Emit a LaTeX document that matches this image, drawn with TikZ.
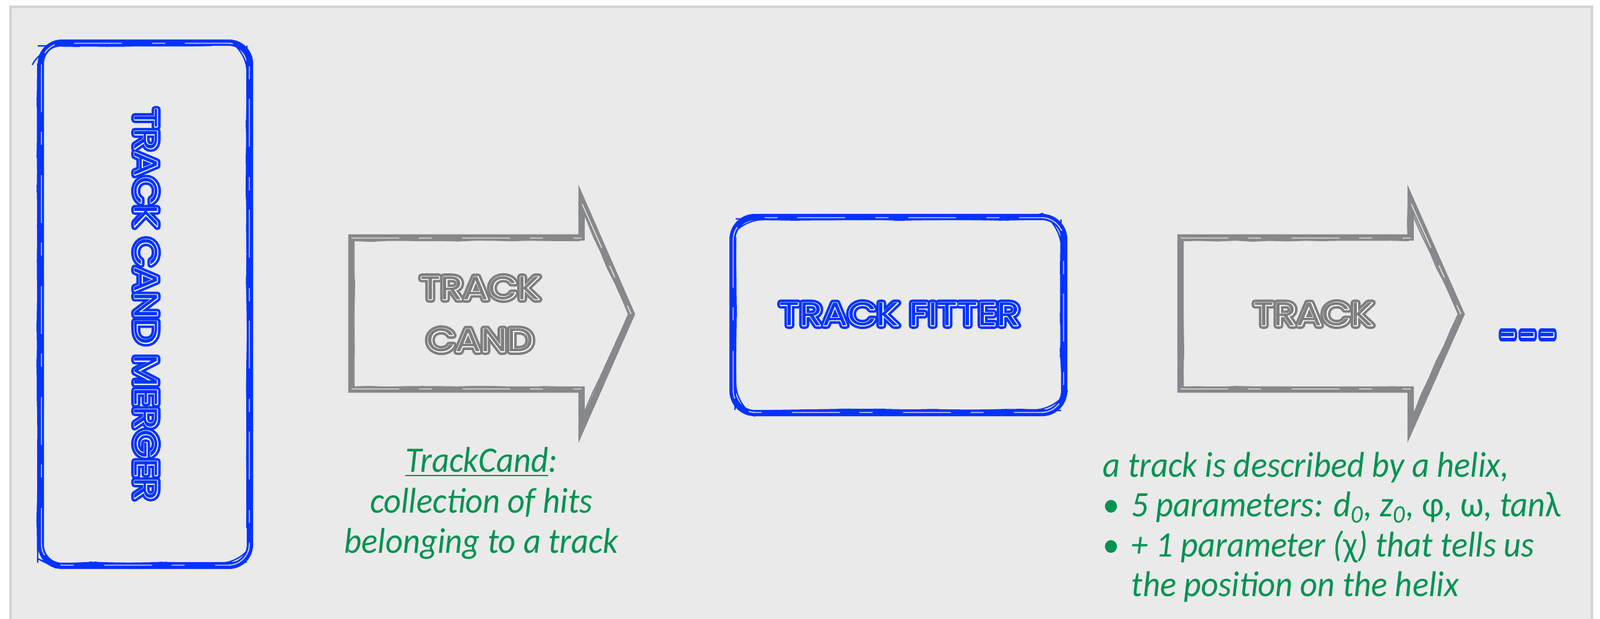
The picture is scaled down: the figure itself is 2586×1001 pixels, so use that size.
\documentclass[tikz,border=0pt]{standalone}
\usepackage{fontspec}
\usetikzlibrary{decorations.pathmorphing}
\newfontfamily\notefont{Carlito}[FakeStretch=0.94]
\newfontfamily\dispfont{Poppins}[FakeStretch=1.15]
\newfontfamily\dispwide{Poppins}[FakeStretch=1.15,FakeBold=20]
\newfontfamily\dispmid{Poppins}[FakeStretch=1.15,FakeBold=4.5]
\definecolor{panel}{HTML}{EAEAEA}
\definecolor{frame}{HTML}{D3D3D3}
\definecolor{modblue}{HTML}{0433FF}
\definecolor{objgray}{HTML}{86888B}
\definecolor{objtext}{HTML}{7E7E7E}
\definecolor{notegreen}{HTML}{009250}
% inline lettering: thick outline, light line, thin core
\newcommand\inlaid[2]{\rlap{\dispwide\color{#1}#2}\rlap{\dispmid\color{white}#2}{\dispfont\color{#1}#2}}
\newcommand\bul{\makebox[0.46cm][l]{\upshape\textbullet}}

\begin{document}
\begin{tikzpicture}[x=0.01cm,y=-0.01cm,
  brush/.style={line width=2.9pt,line join=round},
  grain/.style={line width=0.6pt,decorate,decoration={random steps,segment length=8pt,amplitude=0.3pt}},
  streak/.style={draw=panel,line width=0.4pt,dash pattern=on 22pt off 9pt on 6pt off 14pt},
  stamp/.style={inner sep=0pt,line join=round,font=\fontsize{15}{24}\selectfont},
  notes/.style={inner sep=0pt,text=notegreen,font=\notefont\itshape\fontsize{16.5}{18.6}\selectfont}]
  \useasboundingbox (0,0) rectangle (2586,1001);
  \fill[white] (0,0) rectangle (2586,1001);
  \draw[frame,fill=panel,line width=1.2pt] (17,11) rectangle (2573,1020);

  % Left: merger module
  \draw[brush,modblue,rounded corners=0.34cm] (66,69) rectangle (404,915);
  \draw[grain,modblue,rounded corners=0.34cm] (61,74) rectangle (399,910);
  \draw[streak,rounded corners=0.34cm] (67,70) rectangle (403,914);
  \node[stamp,rotate=-90] (merger) at (236,492) {\inlaid{modblue}{TRACK CAND MERGER}};

  % TrackCand object
  \draw[brush,objgray,line join=miter] (568,384) -- (940,384) -- (940,323) -- (1021,508) -- (940,692) -- (940,630) -- (568,630) -- cycle;
  \draw[grain,objgray] (572,389) -- (936,389) -- (936,330) -- (1016,508) -- (936,686) -- (936,626) -- (572,626) -- cycle;
  \draw[streak] (568,385) -- (940,385) (941,330) -- (1020,508) (568,629) -- (940,629);
  \node[stamp,align=center] (candobj) at (776,508) {\inlaid{objtext}{TRACK}\\\inlaid{objtext}{CAND}};

  % Fitter module
  \draw[brush,modblue,rounded corners=0.36cm] (1184,351) rectangle (1720,668);
  \draw[grain,modblue,rounded corners=0.36cm] (1189,355) rectangle (1715,663);
  \draw[streak,rounded corners=0.36cm] (1185,352) rectangle (1719,667);
  \node[stamp] (fitter) at (1454,508) {\inlaid{modblue}{TRACK FITTER}};

  % Track object
  \draw[brush,objgray,line join=miter] (1908,384) -- (2280,384) -- (2280,323) -- (2362,508) -- (2280,692) -- (2280,630) -- (1908,630) -- cycle;
  \draw[grain,objgray] (1912,389) -- (2276,389) -- (2276,330) -- (2357,508) -- (2276,686) -- (2276,626) -- (1912,626) -- cycle;
  \draw[streak] (1908,385) -- (2280,385) (2281,330) -- (2361,508) (1908,629) -- (2280,629);
  \node[stamp] (trackobj) at (2123,508) {\inlaid{objtext}{TRACK}};

  % what comes next
  \node[stamp,xscale=0.85,yscale=1.45,transform shape] (more) at (2470,554) {\inlaid{modblue}{-\kern1.2pt-\kern1.2pt-}};

  % Notes
  \node[notes,align=center] (candnote) at (778,814) {\underline{TrackCand}:\\collection of hits\\belonging to a track};
  \node[notes,align=left,anchor=north west,font=\notefont\itshape\fontsize{16.5}{18.2}\selectfont] (tracknote) at (1782,731) {a track is described by a helix,\\
    \bul 5 parameters: d\textsubscript{0}, z\textsubscript{0}, {\upshape φ}, {\upshape ω}, tan{\upshape λ}\\
    \bul + 1 parameter ({\upshape χ}) that tells us\\
    \hspace*{0.46cm}the position on the helix};
\end{tikzpicture}
\end{document}
